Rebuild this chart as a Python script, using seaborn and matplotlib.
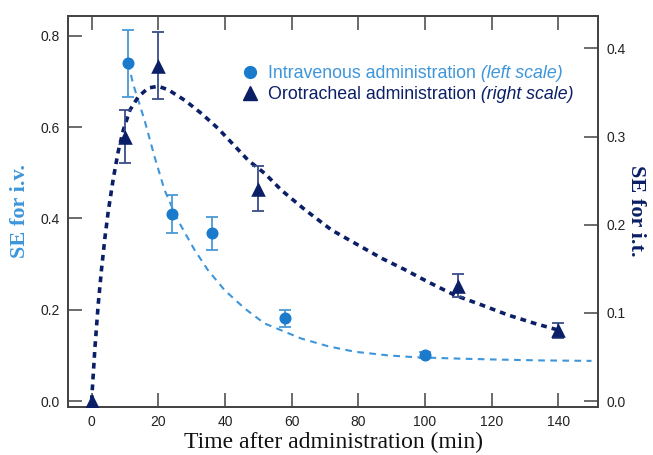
import matplotlib
matplotlib.use("Agg")
import matplotlib.pyplot as plt
import seaborn as sns
import pandas as pd

# --- podaci ocitani sa slike ---
t_iv = [11, 24, 36, 58, 100]
se_iv = [0.740, 0.410, 0.367, 0.181, 0.101]
err_iv = [0.073, 0.041, 0.036, 0.019, 0.006]

t_it = [0, 10, 20, 50, 110, 140]
se_it = [0.0, 0.300, 0.380, 0.241, 0.131, 0.080]
err_it = [0.0, 0.030, 0.038, 0.026, 0.013, 0.008]

# fit krive (tacke ocitane sa slike)
fit_iv_t = [11, 12.4, 15.9, 18.9, 21.9, 25.9, 30.9, 34.9, 39.9, 45.9, 51.9,
            56.9, 62.9, 71, 79, 89, 97, 110, 121, 135, 150]
fit_iv_y = [0.740, 0.696, 0.615, 0.535, 0.462, 0.396, 0.331, 0.287, 0.243,
            0.203, 0.170, 0.155, 0.137, 0.120, 0.108, 0.100, 0.096, 0.093,
            0.091, 0.089, 0.088]

fit_it_t = [0, 1, 2, 3, 4, 5, 6.5, 8, 9.5, 11.5, 14, 17, 20, 23, 28, 33, 38,
            47, 52, 57, 64, 72, 79, 87, 94, 101, 109, 117, 125, 133, 140]
fit_it_y = [0.0, 0.060, 0.110, 0.150, 0.185, 0.215, 0.252, 0.283, 0.307,
            0.330, 0.345, 0.355, 0.357, 0.353, 0.341, 0.326, 0.309, 0.273,
            0.258, 0.239, 0.217, 0.194, 0.179, 0.162, 0.149, 0.135, 0.120,
            0.109, 0.0975, 0.088, 0.0805]

x_ticks = [0, 20, 40, 60, 80, 100, 120, 140]
left_ticks = [0.0, 0.2, 0.4, 0.6, 0.8]
right_ticks = [0.0, 0.1, 0.2, 0.3, 0.4]

leg_main = ["Intravenous administration", "Orotracheal administration"]
leg_note = [" (left scale)", " (right scale)"]

c_iv = "#1a7acc"
c_iv_line = "#3d96db"
c_iv_err = "#4a9ad8"
c_it = "#0b1f66"
c_it_err = "#3a4d8a"
spine_c = "#444444"

sns.set_style("ticks")
plt.rcParams["font.family"] = ["Liberation Sans", "DejaVu Sans"]

fig = plt.figure(figsize=(6.53, 4.55), dpi=100)
ax = fig.add_axes([0.104, 0.106, 0.812, 0.8595])
ax2 = ax.twinx()

df_iv = pd.DataFrame({"t": t_iv, "se": se_iv})
df_it = pd.DataFrame({"t": t_it, "se": se_it})

# krive
sns.lineplot(x=fit_iv_t, y=fit_iv_y, ax=ax, color=c_iv_line, lw=1.5,
             linestyle=(0, (3.2, 2.6)), sort=False)
sns.lineplot(x=fit_it_t, y=fit_it_y, ax=ax2, color=c_it, lw=2.6,
             linestyle=(0, (1.6, 1.4)), sort=False)

# error bars
ax.errorbar(t_iv, se_iv, yerr=err_iv, fmt="none", ecolor=c_iv_err,
            elinewidth=1.3, capsize=4, capthick=1.3)
ax2.errorbar(t_it[1:], se_it[1:], yerr=err_it[1:], fmt="none",
             ecolor=c_it_err, elinewidth=1.3, capsize=4, capthick=1.3)

# markeri
sns.scatterplot(data=df_iv, x="t", y="se", ax=ax, color=c_iv, marker="o",
                s=75, edgecolor=c_iv, linewidth=0, zorder=5)
sns.scatterplot(data=df_it, x="t", y="se", ax=ax2, color=c_it, marker="^",
                s=110, edgecolor=c_it, linewidth=0, zorder=5)

ax.set_xlim(-7.1, 152)
ax.set_ylim(-0.0125, 0.844)
ax2.set_ylim(-0.0065, 0.437)

ax.set_xticks(x_ticks)
ax.set_yticks(left_ticks)
ax2.set_yticks(right_ticks)
ax.set_xticklabels([str(v) for v in x_ticks])
ax.set_yticklabels([f"{v:.1f}" for v in left_ticks])
ax2.set_yticklabels([f"{v:.1f}" for v in right_ticks])

ax.tick_params(axis="both", direction="in", length=10, width=1.1,
               color=spine_c, labelsize=10, labelcolor="#222222", pad=6)
ax.tick_params(axis="x", top=True, bottom=True)
ax.tick_params(axis="y", right=False)
ax2.tick_params(axis="y", direction="in", length=10, width=1.1,
                color=spine_c, labelsize=10, labelcolor="#222222", pad=6)

for a in (ax, ax2):
    for s in a.spines.values():
        s.set_color(spine_c)
        s.set_linewidth(1.3)
        s.set_visible(True)

ax.set_xlabel("Time after administration (min)", family="Liberation Serif",
              fontsize=17, color="#111111", labelpad=2)
ax.set_ylabel("SE for i.v.", family="Liberation Serif", fontsize=16,
              fontweight="bold", color=c_iv_line, va="center", ha="center")
ax.yaxis.set_label_coords(-0.091, 0.5)
ax2.set_ylabel("SE for i.t.", family="Liberation Serif", fontsize=16,
               fontweight="bold", color=c_it, rotation=270,
               va="center", ha="center")
ax2.yaxis.set_label_coords(1.072, 0.5)

# legenda
h1 = plt.Line2D([], [], ls="none", marker="o", ms=8.5, color=c_iv)
h2 = plt.Line2D([], [], ls="none", marker="^", ms=10, color=c_it)
leg = ax.legend([h1, h2], leg_main, loc="upper left",
                bbox_to_anchor=(0.31, 0.892), frameon=False, fontsize=12.8,
                handletextpad=0.4, labelspacing=0.22, borderaxespad=0,
                handlelength=1.2)
leg.set_zorder(10)
for txt, note, col in zip(leg.get_texts(), leg_note, [c_iv_line, c_it]):
    txt.set_color(col)
    ax.annotate(note, xy=(1, 0), xycoords=txt, ha="left", va="bottom",
                fontsize=12.8, fontstyle="italic", color=col,
                annotation_clip=False, zorder=11)

fig.savefig("out.png", dpi=100)
